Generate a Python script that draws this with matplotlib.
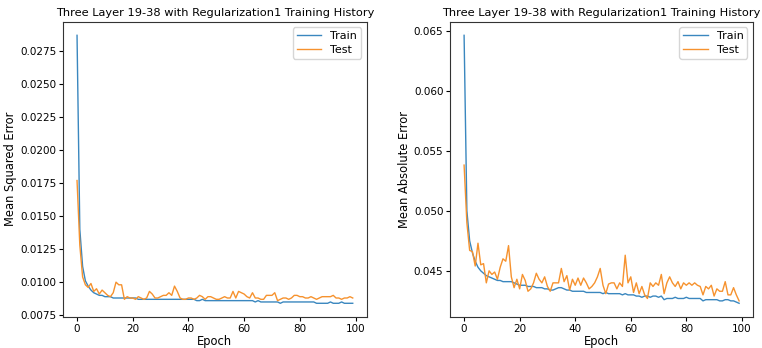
import matplotlib
matplotlib.use("Agg")
import matplotlib.pyplot as plt
import numpy as np

epochs = np.arange(100)

mse_train = [
    0.0287, 0.0140, 0.0112, 0.0101, 0.0097, 0.0094, 0.0092, 0.0091, 0.0090, 0.0090,
    0.0089, 0.0089, 0.0089, 0.0088, 0.0088, 0.0088, 0.0088, 0.0088, 0.0088, 0.0088,
    0.0088, 0.0088, 0.0087, 0.0087, 0.0087, 0.0087, 0.0087, 0.0087, 0.0087, 0.0087,
    0.0087, 0.0087, 0.0087, 0.0087, 0.0087, 0.0087, 0.0087, 0.0087, 0.0087, 0.0087,
    0.0087, 0.0087, 0.0087, 0.0086, 0.0086, 0.0087, 0.0086, 0.0086, 0.0086, 0.0086,
    0.0086, 0.0086, 0.0086, 0.0086, 0.0086, 0.0086, 0.0086, 0.0086, 0.0086, 0.0086,
    0.0086, 0.0086, 0.0086, 0.0086, 0.0085, 0.0086, 0.0085, 0.0085, 0.0085, 0.0085,
    0.0085, 0.0085, 0.0085, 0.0084, 0.0085, 0.0085, 0.0085, 0.0085, 0.0085, 0.0085,
    0.0085, 0.0085, 0.0085, 0.0085, 0.0085, 0.0085, 0.0084, 0.0084, 0.0084, 0.0084,
    0.0084, 0.0085, 0.0084, 0.0084, 0.0084, 0.0085, 0.0084, 0.0084, 0.0084, 0.0084,
]
mse_test = [
    0.0177, 0.0128, 0.0104, 0.0098, 0.0096, 0.0099, 0.0093, 0.0095, 0.0091, 0.0094,
    0.0092, 0.0090, 0.0089, 0.0092, 0.0100, 0.0098, 0.0098, 0.0087, 0.0089, 0.0088,
    0.0088, 0.0087, 0.0089, 0.0088, 0.0087, 0.0088, 0.0093, 0.0091, 0.0088, 0.0088,
    0.0089, 0.0090, 0.0090, 0.0092, 0.0090, 0.0097, 0.0093, 0.0088, 0.0087, 0.0087,
    0.0088, 0.0088, 0.0087, 0.0088, 0.0090, 0.0089, 0.0087, 0.0089, 0.0089, 0.0088,
    0.0087, 0.0087, 0.0088, 0.0089, 0.0088, 0.0088, 0.0093, 0.0088, 0.0093, 0.0092,
    0.0091, 0.0089, 0.0088, 0.0092, 0.0088, 0.0088, 0.0087, 0.0087, 0.0090, 0.0090,
    0.0090, 0.0092, 0.0086, 0.0087, 0.0088, 0.0088, 0.0087, 0.0088, 0.0090, 0.0090,
    0.0089, 0.0089, 0.0088, 0.0088, 0.0089, 0.0088, 0.0087, 0.0088, 0.0089, 0.0089,
    0.0089, 0.0089, 0.0090, 0.0088, 0.0088, 0.0087, 0.0088, 0.0088, 0.0089, 0.0088,
]

mae_train = [
    0.0646, 0.0500, 0.0475, 0.0465, 0.0458, 0.0453, 0.0450, 0.0448, 0.0446, 0.0445,
    0.0444, 0.0443, 0.0442, 0.0442, 0.0441, 0.0441, 0.0441, 0.0441, 0.0440, 0.0439,
    0.0438, 0.0438, 0.0438, 0.0437, 0.0437, 0.0437, 0.0436, 0.0436, 0.0436, 0.0435,
    0.0435, 0.0434, 0.0434, 0.0435, 0.0436, 0.0436, 0.0435, 0.0434, 0.0434, 0.0433,
    0.0433, 0.0433, 0.0433, 0.0433, 0.0432, 0.0432, 0.0432, 0.0432, 0.0432, 0.0432,
    0.0431, 0.0432, 0.0431, 0.0431, 0.0431, 0.0431, 0.0431, 0.0430, 0.0431, 0.0430,
    0.0430, 0.0430, 0.0429, 0.0429, 0.0428, 0.0429, 0.0429, 0.0428, 0.0429, 0.0429,
    0.0428, 0.0429, 0.0426, 0.0427, 0.0427, 0.0427, 0.0428, 0.0427, 0.0427, 0.0427,
    0.0428, 0.0427, 0.0427, 0.0427, 0.0427, 0.0427, 0.0425, 0.0426, 0.0426, 0.0426,
    0.0426, 0.0426, 0.0425, 0.0425, 0.0426, 0.0426, 0.0425, 0.0425, 0.0424, 0.0423,
]
mae_test = [
    0.0538, 0.0490, 0.0467, 0.0466, 0.0454, 0.0473, 0.0455, 0.0456, 0.0440, 0.0450,
    0.0447, 0.0449, 0.0443, 0.0453, 0.0460, 0.0458, 0.0471, 0.0445, 0.0436, 0.0443,
    0.0435, 0.0447, 0.0442, 0.0433, 0.0435, 0.0440, 0.0448, 0.0443, 0.0440, 0.0445,
    0.0437, 0.0433, 0.0440, 0.0440, 0.0440, 0.0452, 0.0441, 0.0446, 0.0434, 0.0443,
    0.0438, 0.0444, 0.0438, 0.0444, 0.0440, 0.0435, 0.0437, 0.0440, 0.0445, 0.0452,
    0.0438, 0.0431, 0.0439, 0.0440, 0.0440, 0.0435, 0.0440, 0.0437, 0.0463, 0.0440,
    0.0445, 0.0432, 0.0440, 0.0431, 0.0437, 0.0430, 0.0427, 0.0440, 0.0437, 0.0440,
    0.0438, 0.0447, 0.0431, 0.0440, 0.0445, 0.0440, 0.0437, 0.0441, 0.0435, 0.0440,
    0.0438, 0.0440, 0.0438, 0.0440, 0.0438, 0.0437, 0.0430, 0.0437, 0.0435, 0.0438,
    0.0429, 0.0435, 0.0433, 0.0433, 0.0441, 0.0430, 0.0430, 0.0436, 0.0430, 0.0425,
]

title = "Three Layer 19-38 with Regularization1 Training History"

plt.rcParams["font.size"] = 8
fig = plt.figure(figsize=(7.62, 3.48), dpi=100)

panels = [
    (mse_train, mse_test, "Mean Squared Error", [0.083, 0.090, 0.398, 0.847]),
    (mae_train, mae_test, "Mean Absolute Error", [0.591, 0.090, 0.397, 0.847]),
]

for train, test, ylabel, rect in panels:
    ax = fig.add_axes(rect)
    ax.plot(epochs, train, color="#3a87bf", lw=1, label="Train")
    ax.plot(epochs, test, color="#f6922e", lw=1, label="Test")
    ax.set_title(title, fontsize=8.2, pad=4)
    ax.set_xlabel("Epoch", fontsize=8.3, labelpad=1)
    ax.set_ylabel(ylabel, fontsize=8.3, labelpad=2)
    ax.tick_params(labelsize=7.5, length=3, pad=2)
    ax.legend(loc="upper right", fontsize=8, handlelength=2.2, borderpad=0.35,
              labelspacing=0.3)
    for s in ax.spines.values():
        s.set_color("#333333")

fig.axes[0].set_yticks(np.arange(0.0075, 0.0276, 0.0025))
fig.axes[0].yaxis.set_major_formatter(plt.FormatStrFormatter("%.4f"))
fig.axes[1].yaxis.set_major_formatter(plt.FormatStrFormatter("%.3f"))

fig.savefig("out.png", dpi=100)
